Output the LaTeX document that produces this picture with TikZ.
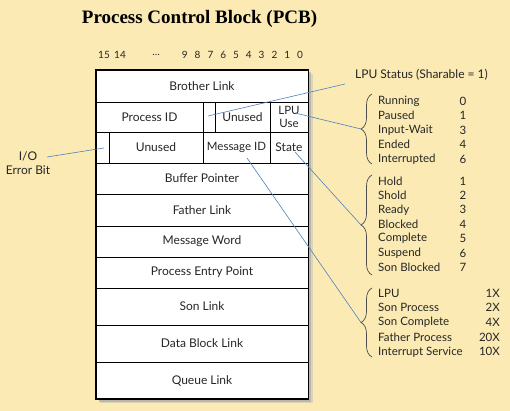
\documentclass[tikz,border=0pt]{standalone}
\usepackage{fontspec}
\setmainfont{Lato}
\newfontfamily\titlefont{Liberation Serif}
\usepackage[HTML]{xcolor}
\usepackage{tikz}
\usetikzlibrary{decorations.pathreplacing}

\definecolor{pcbback}{HTML}{FBEAB4}
\definecolor{leadblue}{HTML}{4F81BD}

\begin{document}
\begin{tikzpicture}[x=1pt, y=-1pt,
  field/.style={font=\fontsize{12}{13.5}\selectfont, text=black!85, inner sep=0pt},
  item/.style={font=\fontsize{11.5}{13}\selectfont, text=black!85, inner sep=0pt, anchor=west},
  code/.style={font=\fontsize{11.5}{13}\selectfont, text=black!85, inner sep=0pt},
  bitno/.style={font=\fontsize{10}{12}\selectfont, text=black!85, inner sep=0pt},
  leader/.style={leadblue, line width=0.6pt},
  curly/.style={decorate, decoration={brace, amplitude=11pt}, black!70, line width=0.7pt}]
% Background
\fill[pcbback] (0,0) rectangle (510,411);
\useasboundingbox (0,0) rectangle (510,411);

% Title
\node[font=\titlefont\bfseries\fontsize{19}{21}\selectfont, inner sep=0pt] (title) at (199.5,19) {Process Control Block (PCB)};

% Bit numbers
\node[bitno] (bit15) at (104,55) {15};
\node[bitno] (bit14) at (120,55) {14};
\node[bitno] (bitdots) at (156,55) {\dots};
\foreach \i in {0,...,9}{
  \node[bitno] (bit\i) at ({300-12.8*\i},55) {\i};
}

% Block with shadow
\fill[black!25, opacity=0.5] (100,74) rectangle (312.5,403);
\fill[black!40, opacity=0.5] (98.5,72.5) rectangle (311,401.5);
\fill[white] (96,70) rectangle (308.5,399);
\draw[line width=1.1pt] (96,70) rectangle (308.5,399);
\foreach \y in {102,132,163,194,226,257,288,325,362}{
  \draw[line width=0.9pt] (96,\y) -- (308.5,\y);
}
\draw[line width=0.9pt] (203,102) -- (203,163);
\draw[line width=0.9pt] (215,102) -- (215,132);
\draw[line width=0.9pt] (270,102) -- (270,163);
\draw[line width=0.9pt] (109,132) -- (109,163);

% Fields
\node[field] (brother) at (202,86) {Brother Link};
\node[field] (procid) at (149.5,117) {Process ID};
\node[field] (unused1) at (242.5,117) {Unused};
\node[field, align=center, font=\fontsize{11.5}{13}\selectfont] (lpuuse) at (289,117) {LPU\\Use};
\node[field] (unused2) at (156,147.5) {Unused};
\node[field, font=\fontsize{11.5}{13}\selectfont] (msgid) at (236.5,147.5) {Message ID};
\node[field] (state) at (289,147.5) {State};
\node[field] (buffer) at (202,178.5) {Buffer Pointer};
\node[field] (father) at (202,210) {Father Link};
\node[field] (msgword) at (202,241.5) {Message Word};
\node[field] (entry) at (202,272.5) {Process Entry Point};
\node[field] (son) at (202,306.5) {Son Link};
\node[field] (datablock) at (202,343.5) {Data Block Link};
\node[field] (queue) at (202,380.5) {Queue Link};

% Side labels
\node[field, anchor=west] (lpustatus) at (355,75) {LPU Status (Sharable = 1)};
\node[field, align=center] (ioerr) at (28,163) {I/O\\Error Bit};

% LPU status codes
\foreach \name/\val [count=\i] in {Running/0, Paused/1, Input-Wait/3, Ended/4, Interrupted/6}{
  \node[item] (lpu\i) at (378,{101+14.5*(\i-1)}) {\name};
  \node[code] (lpuv\i) at (463,{101+14.5*(\i-1)}) {\val};
}
\draw[curly] (372,164) -- (372,94);
\coordinate (lputip) at (361,129);

% State codes
\foreach \name/\val [count=\i] in {Hold/1, Shold/2, Ready/3, Blocked/4, Complete/5, Suspend/6, Son Blocked/7}{
  \node[item] (st\i) at (378,{181+14.4*(\i-1)}) {\name};
  \node[code] (stv\i) at (463,{181+14.4*(\i-1)}) {\val};
}
\draw[curly] (372,275) -- (372,175);
\coordinate (sttip) at (361,225);

% Message codes
\foreach \name/\val [count=\i] in {LPU/1X, Son Process/2X, Son Complete/4X, Father Process/20X, Interrupt Service/10X}{
  \node[item] (msg\i) at (378,{293+14.7*(\i-1)}) {\name};
  \node[code, anchor=east] (msgv\i) at (500,{293+14.7*(\i-1)}) {\val};
}
\draw[curly] (372,357) -- (372,288);
\coordinate (msgtip) at (361,322.5);

% Leader lines
\coordinate (sharebit) at (208,116);
\coordinate (lpustart) at (345,84);
\coordinate (iobit) at (104,148);
\coordinate (iostart) at (47,157);
\coordinate (lpupt) at (295,113);
\coordinate (statept) at (295,152);
\coordinate (msgpt) at (247,158);
\draw[leader] (lpustart) -- (sharebit);
\draw[leader] (iostart) -- (iobit);
\draw[leader] (lpupt) -- (lputip);
\draw[leader] (statept) -- (sttip);
\draw[leader] (msgpt) -- (msgtip);
\end{tikzpicture}
\end{document}
